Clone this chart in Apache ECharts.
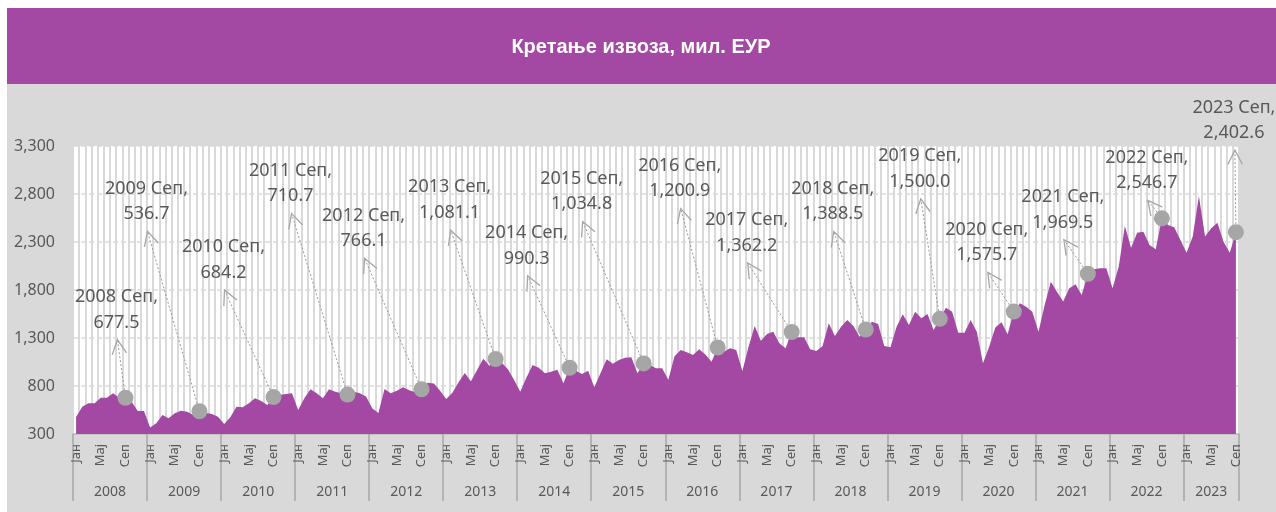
<!DOCTYPE html>
<html>
<head>
<meta charset="utf-8">
<script src="https://cdn.jsdelivr.net/npm/echarts@6/dist/echarts.min.js"></script>
<style>
  html, body { margin: 0; padding: 0; background: #fff; }
  #chart { width: 1276px; height: 512px; }
</style>
</head>
<body>
<div id="chart"></div>
<script>
// месечни извоз, мил. ЕУР (јан 2008 – сеп 2023)
const years = ['2008', '2009', '2010', '2011', '2012', '2013', '2014', '2015',
  '2016', '2017', '2018', '2019', '2020', '2021', '2022', '2023']
const months = ['Јан', 'Феб', 'Мар', 'Апр', 'Мај', 'Јун', 'Јул', 'Авг', 'Сеп', 'Окт', 'Нов', 'Дец']
const shownMonths = ['Јан', 'Мај', 'Сеп']
const yTicks = [300, 800, 1300, 1800, 2300, 2800, 3300]

const exp2008 = [478, 584, 620, 620, 678, 678, 724, 678, 677.5, 637, 540, 540]
const exp2009 = [367, 413, 498, 463, 515, 543, 533, 498, 536.7, 522, 508, 480]
const exp2010 = [404, 474, 584, 578, 620, 672, 644, 602, 684.2, 706, 717, 724]
const exp2011 = [550, 672, 765, 724, 672, 765, 740, 724, 710.7, 740, 724, 690]
const exp2012 = [568, 520, 770, 724, 751, 786, 755, 735, 766.1, 834, 825, 750]
const exp2013 = [665, 730, 840, 935, 850, 967, 1083, 1010, 1081.1, 1043, 975, 863]
const exp2014 = [740, 888, 1019, 990, 932, 949, 970, 828, 990.3, 960, 925, 958]
const exp2015 = [786, 932, 1078, 1032, 1070, 1095, 1099, 932, 1034.8, 1019, 984, 984]
const exp2016 = [866, 1110, 1175, 1152, 1123, 1183, 1128, 1053, 1200.9, 1157, 1192, 1175]
const exp2017 = [955, 1210, 1425, 1272, 1342, 1366, 1245, 1192, 1362.2, 1307, 1307, 1182]
const exp2018 = [1165, 1217, 1453, 1321, 1418, 1488, 1425, 1314, 1388.5, 1470, 1446, 1217]
const exp2019 = [1203, 1418, 1547, 1436, 1574, 1505, 1550, 1383, 1500.0, 1616, 1574, 1355]
const exp2020 = [1355, 1487, 1366, 1036, 1210, 1410, 1465, 1340, 1575.7, 1661, 1626, 1574]
const exp2021 = [1366, 1644, 1887, 1783, 1679, 1817, 1859, 1748, 1969.5, 2015, 2026, 2026]
const exp2022 = [1817, 2043, 2467, 2241, 2397, 2408, 2269, 2224, 2546.7, 2477, 2453, 2321]
const exp2023 = [2189, 2356, 2779, 2356, 2442, 2501, 2303, 2189, 2402.6]

const byYear = [exp2008, exp2009, exp2010, exp2011, exp2012, exp2013, exp2014, exp2015,
  exp2016, exp2017, exp2018, exp2019, exp2020, exp2021, exp2022, exp2023]

// where each "Сеп" callout arrow ends, px relative to its point
const calloutTip = [
  [-8, -58], [-52, -180], [-49, -107], [-56, -181], [-57, -131], [-45, -129],
  [-42, -92], [-61, -142], [-37, -139], [-44, -69], [-32, -98], [-19, -120],
  [-26, -39], [-24, -34], [-14, -18], [-1, -82]
]

const categories = []
const values = []
byYear.forEach((arr, y) => {
  arr.forEach((v, m) => {
    categories.push(years[y] + ' ' + months[m])
    values.push(v)
  })
})
const sepPoints = years.map((y, k) => [k * 12 + 8, byYear[k][8], k])

const fmt = (v, d) => v.toLocaleString('en-US', { minimumFractionDigits: d, maximumFractionDigits: d })
const grey = '#595959'
const font = '"Noto Sans", "Open Sans", sans-serif'

const chart = echarts.init(document.getElementById('chart'))

chart.setOption({
  backgroundColor: '#fff',
  animation: false,
  graphic: [
    { type: 'rect', z: -10, silent: true, shape: { x: 7, y: 84, width: 1269, height: 428 }, style: { fill: '#D9D9D9' } },
    { type: 'rect', z: -10, silent: true, shape: { x: 7, y: 8, width: 1269, height: 76 }, style: { fill: '#A349A4' } },
    {
      type: 'text', z: 5, silent: true, x: 641, y: 47,
      style: {
        text: 'Кретање извоза, мил. ЕУР', fill: '#fff', align: 'center', verticalAlign: 'middle',
        font: 'bold 20px "Liberation Sans", Arial, sans-serif'
      }
    }
  ],
  grid: {
    left: 73, right: 37, top: 146, bottom: 78,
    show: true, backgroundColor: '#fff', borderWidth: 0
  },
  xAxis: [
    {
      type: 'category',
      data: categories,
      position: 'bottom',
      boundaryGap: true,
      axisLine: { show: true, lineStyle: { color: '#BFBFBF', width: 1.5 } },
      axisTick: { show: false },
      splitLine: { show: true, interval: 0, lineStyle: { color: '#D9D9D9', width: 2 } },
      axisLabel: {
        interval: (i) => shownMonths.includes(months[i % 12]),
        formatter: (v) => v.split(' ')[1],
        rotate: 90, margin: 10,
        color: grey, fontSize: 13, fontFamily: font
      }
    },
    {
      type: 'category',
      data: categories,
      position: 'bottom',
      offset: 0,
      boundaryGap: true,
      axisLine: { show: false },
      axisTick: {
        show: true, length: 67,
        interval: (i) => i % 12 === 0,
        lineStyle: { color: '#A6A6A6', width: 1.5 }
      },
      splitLine: { show: false },
      axisLabel: {
        interval: (i) => (i % 12 === 6 && i < 180) || i === 184,
        formatter: (v) => {
          const y = v.split(' ')[0]
          return y === '2023' ? '{b|' + y + '}' : '{a|' + y + '}'
        },
        margin: 51,
        color: grey, fontSize: 14, fontFamily: font,
        rich: {
          a: { padding: [0, 6, 0, 0], color: grey, fontSize: 14, fontFamily: font },
          b: { color: grey, fontSize: 14, fontFamily: font }
        }
      }
    }
  ],
  yAxis: {
    type: 'value',
    min: yTicks[0],
    max: yTicks[yTicks.length - 1],
    interval: 500,
    axisLine: { show: false },
    axisTick: { show: false },
    splitLine: { show: true, lineStyle: { color: '#D9D9D9', width: 1.5, type: [5, 3] } },
    axisLabel: {
      margin: 18, color: grey, fontSize: 16, fontFamily: font,
      formatter: (v) => fmt(v, 0)
    }
  },
  series: [
    {
      name: 'Извоз',
      type: 'line',
      data: values,
      symbol: 'none',
      lineStyle: { width: 0 },
      areaStyle: { color: '#A349A4', opacity: 1, origin: 'start' },
      z: 2
    },
    {
      type: 'custom',
      data: sepPoints,
      clip: false,
      z: 10,
      renderItem: (params, api) => {
        const k = api.value(2)
        const p = api.coord([api.value(0), api.value(1)])
        const tip = [p[0] + calloutTip[k][0], p[1] + calloutTip[k][1]]
        const dx = tip[0] - p[0]
        const dy = tip[1] - p[1]
        const len = Math.sqrt(dx * dx + dy * dy)
        const ux = dx / len
        const uy = dy / len
        const a = 27 * Math.PI / 180
        const L = 16
        const wing = (s) => {
          const rx = Math.cos(a) * ux - s * Math.sin(a) * uy
          const ry = s * Math.sin(a) * ux + Math.cos(a) * uy
          return [tip[0] - L * rx, tip[1] - L * ry]
        }
        const label = years[k] + ' Сеп,\n' + fmt(api.value(1), 1)
        return {
          type: 'group',
          children: [
            {
              type: 'line',
              shape: { x1: p[0], y1: p[1], x2: tip[0], y2: tip[1] },
              style: { stroke: '#9A9A9A', lineWidth: 1, lineDash: [2, 2] }
            },
            {
              type: 'polyline',
              shape: { points: [wing(1), tip, wing(-1)] },
              style: { stroke: '#A6A6A6', lineWidth: 1.3, fill: null }
            },
            {
              type: 'circle',
              shape: { cx: p[0], cy: p[1], r: 8 },
              style: { fill: '#A6A6A6' }
            },
            {
              type: 'text',
              x: tip[0] - 1,
              y: tip[1] - 30,
              style: {
                text: label, align: 'center', verticalAlign: 'middle',
                lineHeight: 25.5, fill: grey,
                font: '18px ' + font
              }
            }
          ]
        }
      }
    }
  ]
})
</script>
</body>
</html>
